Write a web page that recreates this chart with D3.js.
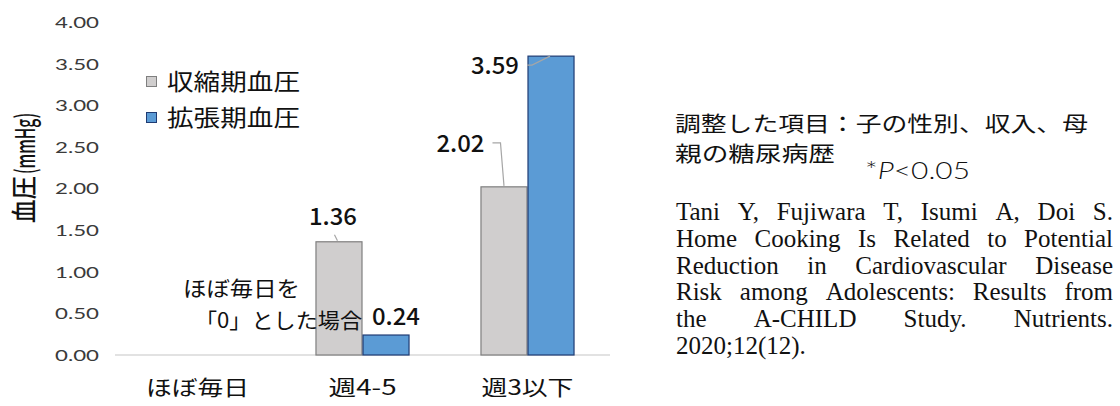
<!DOCTYPE html>
<html><head><meta charset="utf-8">
<script src="https://cdn.jsdelivr.net/npm/d3@7"></script>
<style>
html,body{margin:0;padding:0;background:#fff;}
svg{display:block;}
</style></head>
<body>
<svg id="chart" width="1120" height="406"></svg>
<script>
// ---- data ----
const categories = ["ほぼ毎日", "週4-5", "週3以下"];
const seriesNames = ["収縮期血圧", "拡張期血圧"];
const systolic = [0, 1.36, 2.02];
const diastolic = [0, 0.24, 3.59];
const yTickValues = [0, 0.5, 1, 1.5, 2, 2.5, 3, 3.5, 4];
const yLabelMain = "血圧";
const yLabelUnit = "(mmHg)";
const refNote = ["ほぼ毎日を", "「0」とした場合"];
const adjustNote = ["調整した項目：子の性別、収入、母", "親の糖尿病歴"];
const pNote = "*P<0.05";
const citationLines = [
  "Tani Y, Fujiwara T, Isumi A, Doi S.",
  "Home Cooking Is Related to Potential",
  "Reduction in Cardiovascular Disease",
  "Risk among Adolescents: Results from",
  "the A-CHILD Study. Nutrients.",
  "2020;12(12)."
];

// ---- layout ----
const svg = d3.select("#chart");
const JP = "'Noto Sans CJK JP','Noto Sans',sans-serif";
const colors = {fill: ["#d0cece", "#5b9bd5"], stroke: ["#7f7f7f", "#1f3b73"]};

const y = d3.scaleLinear().domain([0, 4]).range([355, 22]);
const x0 = d3.scaleBand().domain(categories).range([115, 610]).paddingInner(0.43).paddingOuter(0.215);
const x1 = d3.scaleBand().domain(seriesNames).range([0, x0.bandwidth()]);

// baseline
svg.append("line").attr("x1", 115).attr("x2", 610).attr("y1", y(0)).attr("y2", y(0))
  .attr("stroke", "#d9d9d9").attr("stroke-width", 1.3);

// y tick labels
const yAxis = d3.axisLeft(y).tickValues(yTickValues).tickFormat(d3.format(".2f")).tickSize(0).tickPadding(0);
const gy = svg.append("g").attr("transform", "translate(99,0)").call(yAxis);
gy.select(".domain").remove();
gy.selectAll("text").attr("font-family", "Lato,'DejaVu Sans',sans-serif").attr("font-size", 15)
  .attr("fill", "#3a3a3a").attr("textLength", 44).attr("lengthAdjust", "spacingAndGlyphs").attr("dy", "0.36em");

// x labels
const xAxis = d3.axisBottom(x0).tickSize(0).tickPadding(0);
const gx = svg.append("g").attr("transform", `translate(0,${y(0)})`).call(xAxis);
gx.select(".domain").remove();
const xlw = [103, 68, 92];
gx.selectAll("text").attr("font-family", JP).attr("font-size", 21).attr("fill", "#111")
  .attr("y", 40).attr("dy", 0)
  .attr("textLength", (d, i) => xlw[i]).attr("lengthAdjust", "spacingAndGlyphs");

// bars
const rows = categories.map((c, i) => ({cat: c, vals: [systolic[i], diastolic[i]]}));
const g = svg.append("g");
rows.forEach(r => {
  r.vals.forEach((v, si) => {
    if (!v) return;
    g.append("rect")
      .attr("x", x0(r.cat) + x1(seriesNames[si]) + 0.5)
      .attr("width", x1.bandwidth() - 1)
      .attr("y", y(v))
      .attr("height", y(0) - y(v))
      .attr("fill", colors.fill[si]).attr("stroke", colors.stroke[si]).attr("stroke-width", 1.2);
  });
});

// value labels with leader lines (offsets relative to bar top centre)
const labelSpecs = [
  {ci: 1, si: 0, dx: -6, dy: -17, leader: [[-4.5, -7], [-1.5, -1]]},
  {ci: 1, si: 1, dx: 10, dy: -10, leader: null},
  {ci: 2, si: 0, dx: -43.5, dy: -35, leader: [[-11.5, -44], [-3.5, -44], [0, -1]]},
  {ci: 2, si: 1, dx: -56, dy: 18, leader: [[-24, 9], [-19, 9], [-1, 0]]}
];
labelSpecs.forEach(s => {
  const cat = categories[s.ci];
  const v = [systolic, diastolic][s.si][s.ci];
  const cx = x0(cat) + x1(seriesNames[s.si]) + x1.bandwidth() / 2;
  const cy = y(v);
  if (s.leader) {
    svg.append("path")
      .attr("d", d3.line()(s.leader.map(p => [cx + p[0], cy + p[1]])))
      .attr("fill", "none").attr("stroke", "#a6a6a6").attr("stroke-width", 1.2);
  }
  svg.append("text").attr("x", cx + s.dx).attr("y", cy + s.dy)
    .attr("text-anchor", "middle").attr("font-family", JP).attr("font-weight", 500)
    .attr("font-size", 23).attr("fill", "#111")
    .attr("textLength", 48).attr("lengthAdjust", "spacingAndGlyphs")
    .text(d3.format(".2f")(v));
});

// legend
const legY = [82, 118];
seriesNames.forEach((n, i) => {
  svg.append("rect").attr("x", 146.5).attr("y", legY[i] - 5.5).attr("width", 10).attr("height", 10)
    .attr("fill", colors.fill[i]).attr("stroke", colors.stroke[i]).attr("stroke-width", 1);
  svg.append("text").attr("x", 167).attr("y", legY[i]).attr("dy", "0.36em")
    .attr("font-family", JP).attr("font-size", 23).attr("fill", "#111")
    .attr("textLength", 133).attr("lengthAdjust", "spacingAndGlyphs").text(n);
});

// y axis title (rotated)
const yt = svg.append("g").attr("transform", "translate(25,0) rotate(-90)");
yt.append("text").attr("x", -223).attr("y", 0).attr("dy", "0.36em")
  .attr("font-family", JP).attr("font-weight", 500).attr("font-size", 26).attr("fill", "#111")
  .attr("textLength", 47).attr("lengthAdjust", "spacingAndGlyphs").text(yLabelMain);
yt.append("text").attr("x", -174).attr("y", 0).attr("dy", "0.36em")
  .attr("font-family", JP).attr("font-weight", 500).attr("font-size", 27).attr("fill", "#111")
  .attr("textLength", 61).attr("lengthAdjust", "spacingAndGlyphs").text(yLabelUnit);

// reference note
const refPos = [[183, 288, 117], [195, 320, 167]];
refNote.forEach((t, i) => {
  svg.append("text").attr("x", refPos[i][0]).attr("y", refPos[i][1]).attr("dy", "0.36em")
    .attr("font-family", JP).attr("font-size", 21).attr("fill", "#111")
    .attr("textLength", refPos[i][2]).attr("lengthAdjust", "spacingAndGlyphs").text(t);
});

// adjustment note
const adjPos = [[675, 123, 413], [675, 153, 160]];
adjustNote.forEach((t, i) => {
  svg.append("text").attr("x", adjPos[i][0]).attr("y", adjPos[i][1]).attr("dy", "0.36em")
    .attr("font-family", JP).attr("font-size", 21).attr("fill", "#111")
    .attr("textLength", adjPos[i][2]).attr("lengthAdjust", "spacingAndGlyphs").text(t);
});

// p note (P italic)
const pt = svg.append("text").attr("x", 865).attr("y", 171).attr("dy", "0.36em")
  .attr("font-family", "Lato,'Noto Sans',sans-serif").attr("font-weight", 300).attr("font-size", 23).attr("fill", "#111")
  .attr("textLength", 105).attr("lengthAdjust", "spacingAndGlyphs");
pt.append("tspan").text("*");
pt.append("tspan").attr("font-style", "italic").text("P");
pt.append("tspan").text(pNote.slice(2));

// citation (justified)
const citX0 = 676, citX1 = 1113, citY0 = 220, citLH = 26.8;
citationLines.forEach((line, li) => {
  const yy = citY0 + li * citLH;
  const gl = svg.append("g");
  const style = s => s.attr("font-family", "'Liberation Serif','Times New Roman',serif").attr("font-size", 25).attr("fill", "#111");
  if (li === citationLines.length - 1) {
    style(gl.append("text").attr("x", citX0).attr("y", yy).text(line));
    return;
  }
  const words = line.split(" ");
  const nodes = words.map(w => style(gl.append("text").attr("y", yy).text(w)));
  const widths = nodes.map(n => n.node().getComputedTextLength());
  const gap = (citX1 - citX0 - d3.sum(widths)) / (words.length - 1);
  let cx = citX0;
  nodes.forEach((n, i) => { n.attr("x", cx); cx += widths[i] + gap; });
});
</script>
</body></html>
